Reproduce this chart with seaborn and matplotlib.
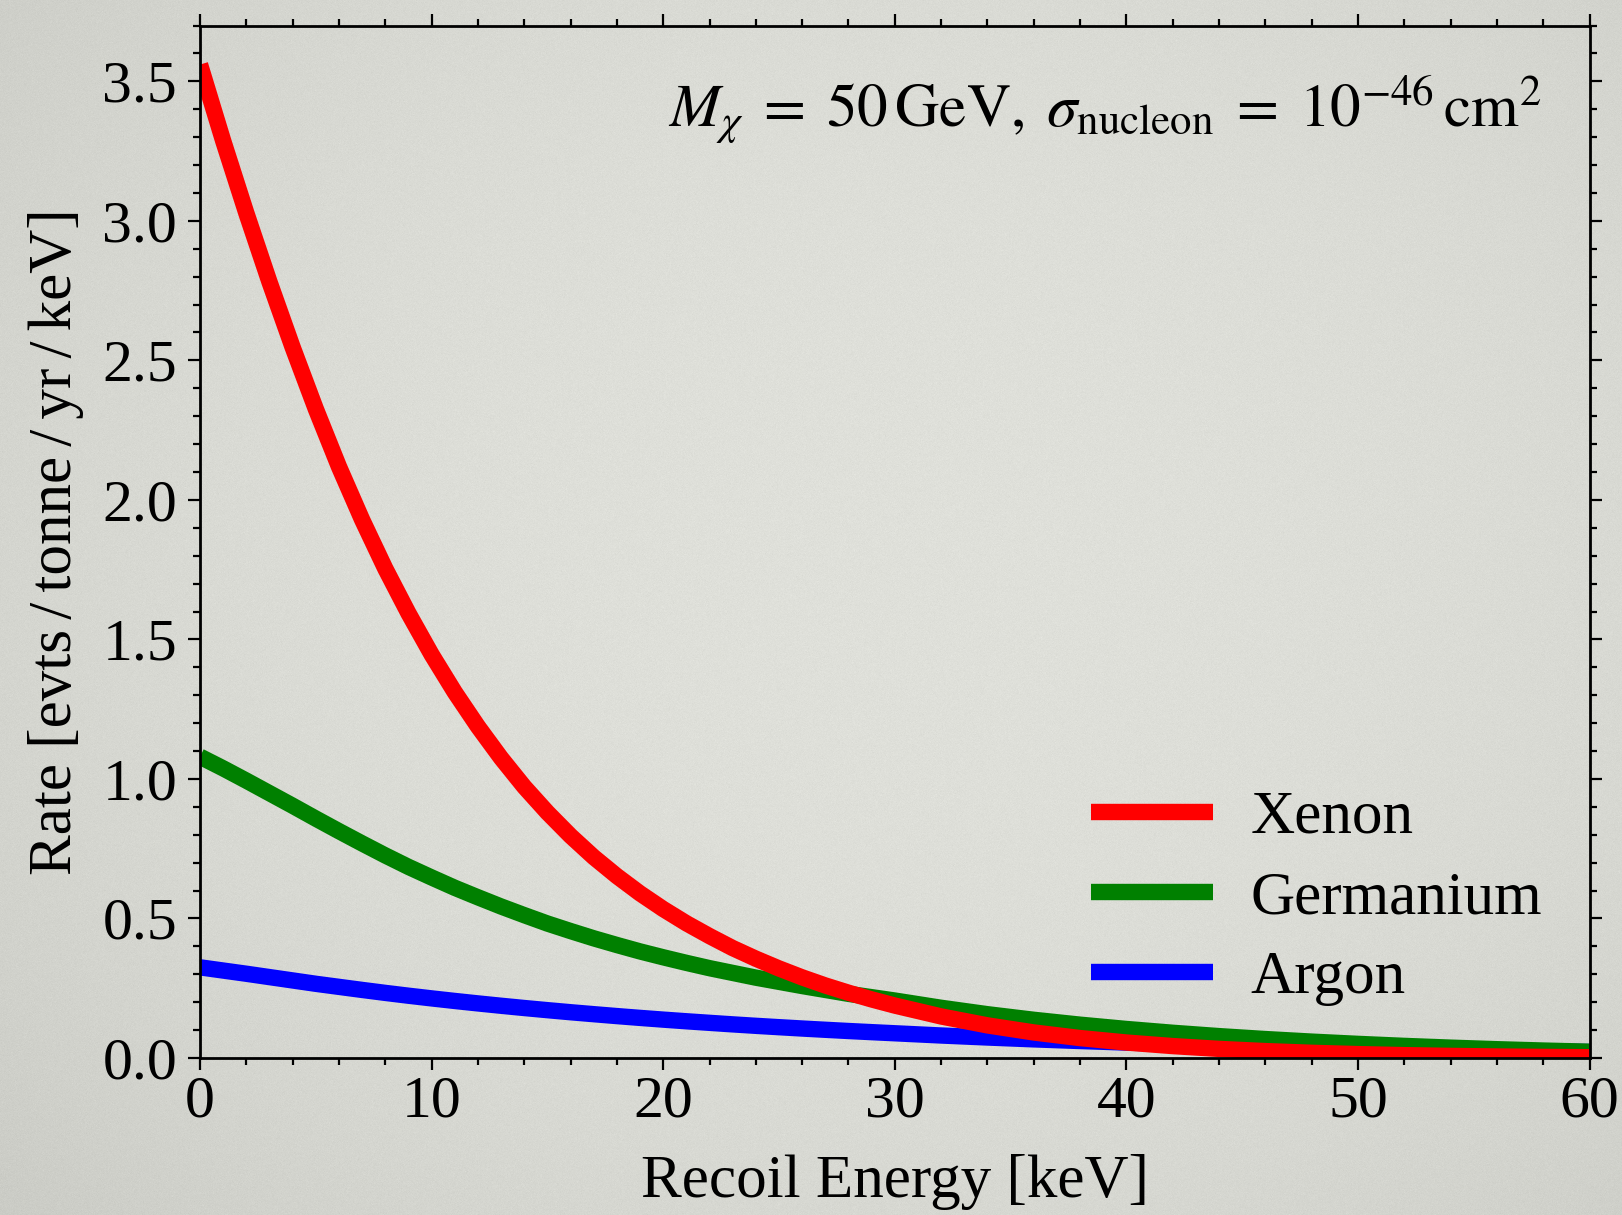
import numpy as np
import pandas as pd
import matplotlib
matplotlib.use("Agg")
import matplotlib.pyplot as plt
from matplotlib.ticker import MultipleLocator, FormatStrFormatter
import seaborn as sns

# Differential WIMP recoil rates: 1 keV steps up to 30 keV, 2 keV steps beyond
energy_kev = list(range(0, 31)) + list(range(32, 61, 2))
rate_xenon = [3.56, 3.287, 3.028, 2.781, 2.547, 2.326, 2.119, 1.929, 1.754, 1.594,
              1.446, 1.311, 1.188, 1.075, 0.972, 0.880, 0.796, 0.720, 0.652, 0.590,
              0.534, 0.483, 0.437, 0.394, 0.356, 0.321, 0.289, 0.260, 0.234, 0.210,
              0.188,
              0.149, 0.117, 0.0916, 0.0715, 0.0555, 0.0428, 0.0327, 0.0248, 0.0187,
              0.0140, 0.0103, 0.0076, 0.0055, 0.0040, 0.0029]
rate_germanium = [1.080, 1.038, 0.994, 0.949, 0.904, 0.858, 0.813, 0.769, 0.726, 0.685,
                  0.647, 0.610, 0.576, 0.543, 0.512, 0.482, 0.455, 0.429, 0.405, 0.382,
                  0.361, 0.341, 0.322, 0.305, 0.288, 0.273, 0.258, 0.244, 0.230, 0.218,
                  0.206,
                  0.180, 0.157, 0.137, 0.1195, 0.1041, 0.0905, 0.0785, 0.0680, 0.0588,
                  0.0507, 0.0435, 0.0372, 0.0316, 0.0268, 0.0226]
rate_argon = [0.325, 0.3135, 0.302, 0.290, 0.278, 0.266, 0.255, 0.244, 0.2334, 0.2233,
              0.2137, 0.2045, 0.1957, 0.1873, 0.1792, 0.1715, 0.1641, 0.1571, 0.1503,
              0.1438, 0.1376, 0.1317, 0.1261, 0.1206, 0.1154, 0.1105, 0.1057, 0.1012,
              0.0968, 0.0927, 0.0887,
              0.0807, 0.0735, 0.0669, 0.0609, 0.0554, 0.0504, 0.0459, 0.0418, 0.0380,
              0.0346, 0.0315, 0.0287, 0.0261, 0.0238, 0.0216]

targets = ["Xenon", "Germanium", "Argon"]
colors = {"Xenon": "#ff0000", "Germanium": "#008000", "Argon": "#0000ff"}

n = len(energy_kev)
df = pd.DataFrame({
    "E": energy_kev * 3,
    "rate": rate_xenon + rate_germanium + rate_argon,
    "target": ["Xenon"] * n + ["Germanium"] * n + ["Argon"] * n,
})

sns.set_style("ticks")
plt.rcParams["font.family"] = ["Liberation Serif", "DejaVu Serif"]
plt.rcParams["mathtext.fontset"] = "stix"
plt.rcParams["text.color"] = "black"
plt.rcParams["axes.labelcolor"] = "black"

fig = plt.figure(figsize=(16.22, 12.15), dpi=100)

# textured grey backdrop with a soft darkening toward the edges
h, w = 1215, 1622
yy, xx = np.mgrid[0:h, 0:w]
r = np.sqrt(((xx - w * 0.55) / (w * 0.75)) ** 2 + ((yy - h * 0.45) / (h * 0.85)) ** 2)
base = 0.875 - 0.085 * np.clip(r, 0, 1.3) ** 2.2
rng = np.random.default_rng(3)
grain = rng.normal(0, 0.007, (h, w))
img = np.stack([base + grain, base + 0.004 + grain, base - 0.02 + grain], axis=-1)
fig.figimage(np.clip(img, 0, 1), xo=0, yo=0, origin="upper", zorder=-10)

ax = fig.add_axes([0.1233, 0.1292, 0.980 - 0.1233, 0.979 - 0.1292])
ax.set_facecolor("none")

# Argon underneath, Xenon on top
for name in ["Argon", "Germanium", "Xenon"]:
    sns.lineplot(data=df[df["target"] == name], x="E", y="rate", ax=ax,
                 color=colors[name], linewidth=11.8, label=name,
                 solid_capstyle="butt", solid_joinstyle="round")

ax.set_xlim(0, 60)
ax.set_ylim(0, 3.7)
ax.xaxis.set_major_locator(MultipleLocator(10))
ax.xaxis.set_minor_locator(MultipleLocator(2))
ax.yaxis.set_major_locator(MultipleLocator(0.5))
ax.yaxis.set_minor_locator(MultipleLocator(0.1))
ax.yaxis.set_major_formatter(FormatStrFormatter("%.1f"))

for s in ax.spines.values():
    s.set_linewidth(2.0)
    s.set_color("black")
    s.set_visible(True)

ax.tick_params(which="both", direction="out", top=True, right=True,
               labeltop=False, labelright=False, colors="black",
               labelsize=43, width=1.6)
ax.tick_params(which="major", length=8.5, pad=4)
ax.tick_params(which="minor", length=5.2)
ax.tick_params(axis="y", which="major", pad=8)

sp = "\u2006"
ax.set_xlabel("Recoil Energy [keV]", fontsize=44, labelpad=18)
ax.set_ylabel(f"Rate [evts{sp}/{sp}tonne{sp}/{sp}yr{sp}/{sp}keV]", fontsize=44,
              labelpad=13)

ax.text(0.965, 0.902,
        r"$M_\chi \;=\; 50\,\mathrm{GeV},\; \sigma_\mathrm{nucleon} \;=\; 10^{-46}\,\mathrm{cm}^2$",
        transform=ax.transAxes, ha="right", va="baseline", fontsize=44)

handles, labels = ax.get_legend_handles_labels()
order = [labels.index(t) for t in targets]
ax.legend([handles[i] for i in order], [labels[i] for i in order],
          loc="lower left", bbox_to_anchor=(0.641, 0.05), frameon=False,
          fontsize=44, handlelength=2.0, handletextpad=0.62,
          labelspacing=0.40, borderpad=0, borderaxespad=0)

fig.savefig("out.png", dpi=100)
